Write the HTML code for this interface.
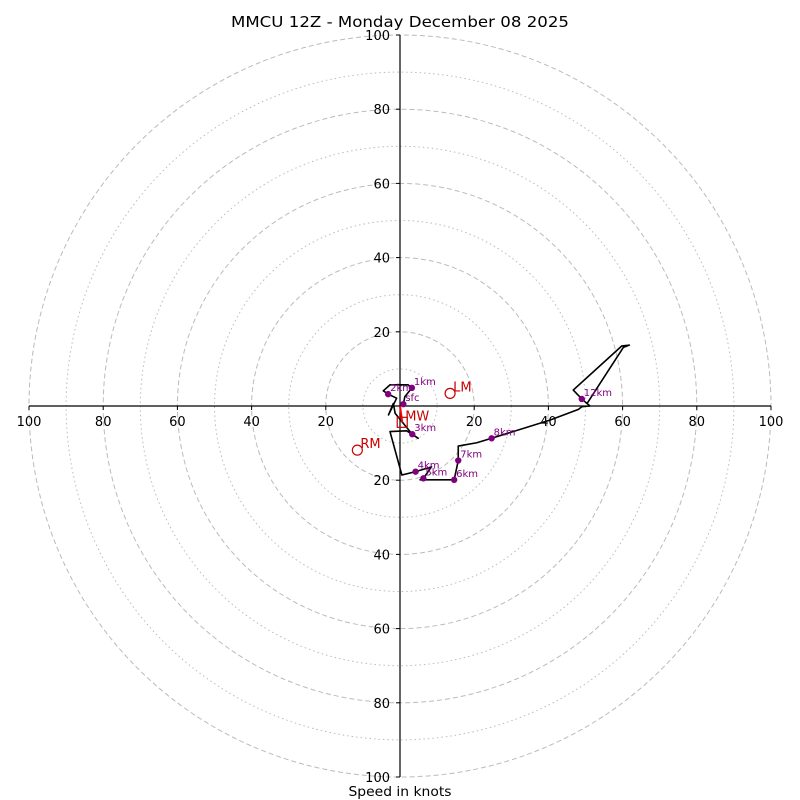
<!DOCTYPE html>
<html><head><meta charset="utf-8"><style>
html,body{margin:0;padding:0;background:#fff;}
svg{display:block;font-family:"DejaVu Sans","Liberation Sans",sans-serif;}
</style></head><body>
<svg id="chart" width="800" height="800" viewBox="0 0 800 800" xmlns="http://www.w3.org/2000/svg">
<rect width="800" height="800" fill="#fff"/>
<text x="400" y="27" font-size="15" text-anchor="middle" textLength="338" lengthAdjust="spacingAndGlyphs">MMCU 12Z - Monday December 08 2025</text>
<text x="400" y="796" font-size="13" text-anchor="middle" textLength="103" lengthAdjust="spacingAndGlyphs">Speed in knots</text>
<g id="grid"></g><g id="axes"></g><g id="trace"></g><g id="marks"></g>
</svg>
<script>
const rings = [10,20,30,40,50,60,70,80,90,100];
const tickVals = [20,40,60,80,100];
const traceU = [0.9,1.3,3.2,2.2,-2.7,-4.5,-3.2,-0.9,-3.1,-1.8,-1.3,3.3,4.9,1.8,-2.7,0.5,4.2,8.5,6.3,5.4,14.6,15.7,15.7,20.7,24.7,40.4,48.1,49.0,51.2,49.0,46.7,59.8,61.8,60.2,50.3];
const traceV = [0.5,2.5,4.9,5.7,5.7,4.1,3.2,2.1,-2.4,0.7,-2.0,-7.6,-8.7,-6.7,-6.9,-18.6,-17.7,-16.4,-19.5,-19.9,-19.9,-14.7,-10.8,-9.9,-8.7,-3.8,-0.9,-0.2,0,1.9,4.3,16.2,16.4,15.8,0.5];
const levelNames = ["sfc","1km","2km","3km","4km","5km","6km","7km","8km","12km"];
const levelU = [0.9,3.2,-3.2,3.3,4.2,6.3,14.6,15.7,24.7,49.0];
const levelV = [0.5,4.9,3.2,-7.6,-17.7,-19.5,-19.9,-14.7,-8.7,1.9];
const motionNames = ["LM","RM","MW"];
const motionU = [13.5,-11.5,0.6];
const motionV = [3.4,-11.9,-4.4];

const NS="http://www.w3.org/2000/svg";
const cx=400, cy=406, k=3.71;
const sx=u=>cx+u*k, sy=v=>cy-v*k;
function el(tag,attrs,parent,txt){const e=document.createElementNS(NS,tag);for(const a in attrs)e.setAttribute(a,attrs[a]);if(txt!==undefined)e.textContent=txt;parent.appendChild(e);return e;}
const grid=document.getElementById('grid'), axes=document.getElementById('axes'), trace=document.getElementById('trace'), marks=document.getElementById('marks');
rings.forEach(r=>{
  const c=el('circle',{cx:cx,cy:cy,r:r*k,fill:'none',stroke:'#bbb','stroke-width':1,'stroke-dasharray':r%20===0?'5,3':'1.5,3'},grid);
  
  
});
let l=el('line',{x1:sx(-100),y1:cy,x2:sx(100),y2:cy,stroke:'#000','stroke-width':1.2},axes);


l=el('line',{x1:cx,y1:sy(100),x2:cx,y2:sy(-100),stroke:'#000','stroke-width':1.2},axes);


tickVals.forEach(t=>{
  [-t,t].forEach(u=>{
    el('line',{x1:sx(u),y1:cy,x2:sx(u),y2:cy+4,stroke:'#000'},axes);
    const tx=el('text',{x:sx(u),y:cy+20,'font-size':13,'text-anchor':'middle'},axes,String(t));
    
    
    el('line',{x1:cx,y1:sy(u),x2:cx-4,y2:sy(u),stroke:'#000'},axes);
    const ty=el('text',{x:cx-10,y:sy(u)+5,'font-size':13,'text-anchor':'end'},axes,String(t));
    
    
  });
});
const pts=traceU.map((u,i)=>sx(u)+','+sy(traceV[i])).join(' ');
const pl=el('polyline',{points:pts,fill:'none',stroke:'#000','stroke-width':1.6,'stroke-linejoin':'round'},trace);


levelNames.forEach((n,i)=>{
  const d=el('circle',{cx:sx(levelU[i]),cy:sy(levelV[i]),r:3.2,fill:'purple'},marks);
  
  
  const t=el('text',{x:sx(levelU[i])+2,y:sy(levelV[i])-3,'font-size':10,fill:'purple'},marks,n);
  
  
});
const mv=el('line',{x1:sx(0),y1:sy(0),x2:sx(motionU[2]),y2:sy(motionV[2]),stroke:'red','stroke-width':2},marks);


motionNames.forEach((n,i)=>{
  const x=sx(motionU[i]), y=sy(motionV[i]);
  let m;
  if(n==='MW') m=el('rect',{x:x-5,y:y-5,width:10,height:10,fill:'none',stroke:'#c00','stroke-width':1.2},marks);
  else m=el('circle',{cx:x,cy:y,r:5,fill:'none',stroke:'#c00','stroke-width':1.2},marks);
  
  
  const t=el('text',{x:x+3,y:y-2,'font-size':13,fill:'#c00'},marks,n);
  
  
});
</script>
</body></html>
